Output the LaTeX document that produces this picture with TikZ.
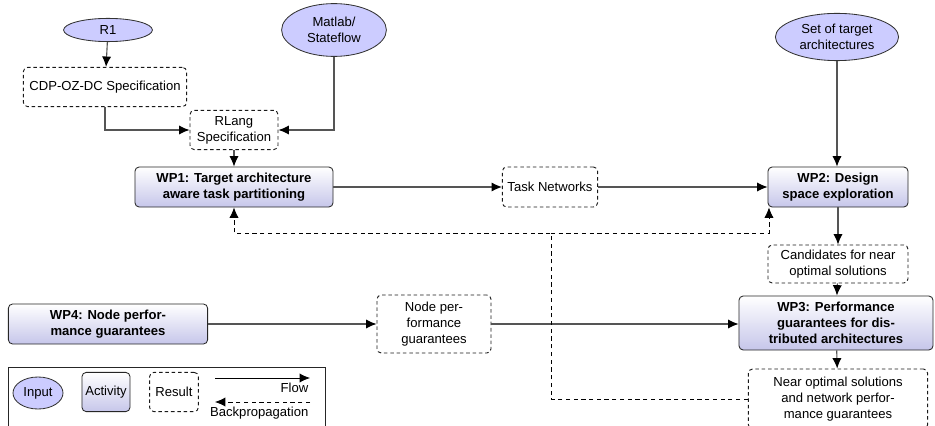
\documentclass[tikz,border=0pt]{standalone}
\usepackage{fontspec}
\setmainfont{Liberation Sans}
\usepackage{tikz}
\usetikzlibrary{arrows.meta,shapes.geometric}

\definecolor{inputfill}{RGB}{204,204,255}
\definecolor{actbottom}{RGB}{198,198,234}
\definecolor{linegray}{RGB}{85,85,85}

\begin{document}
\begin{tikzpicture}[x=0.025cm,y=-0.025cm,
		font=\fontsize{9.3}{11.4}\selectfont,
		input/.style={ellipse,draw=black!80,line width=0.6pt,fill=inputfill,inner sep=0pt,align=center},
		activity/.style={rectangle,rounded corners=3pt,draw=black!85,line width=0.6pt,top color=white,bottom color=actbottom,
			font=\fontsize{9.3}{11.4}\selectfont\bfseries,align=center,minimum height=1cm},
		result/.style={rectangle,rounded corners=3pt,draw=black!90,line width=0.65pt,dash pattern=on 2.5pt off 2pt,align=center},
		flow/.style={draw=linegray,line width=0.8pt,-{Latex[length=2.6mm,width=2.3mm,color=black]}},
		back/.style={flow,draw=black,line width=0.6pt,dash pattern=on 3pt off 2.5pt}]
		\useasboundingbox (0,0) rectangle (935,426);
		
		% TOP: inputs and specifications
		\node[input,minimum width=2.22cm,minimum height=0.58cm] (r1) at (108,30) {R1};
		\node[input,minimum width=2.62cm,minimum height=1.32cm] (matlab) at (334,30) {Matlab/\\Stateflow};
		\node[input,minimum width=3.08cm,minimum height=1.18cm] (targets) at (837,37) {Set of target\\architectures};
		\node[result,minimum width=4.08cm,minimum height=0.98cm] (cdp) at (105,87) {CDP-OZ-DC Specification};
		\node[result,minimum width=2.2cm,minimum height=0.98cm] (rlang) at (234,130) {RLang\\Specification};
		
		\draw[flow] (r1) -- (cdp);
		\draw[flow] (cdp.south) |- (rlang.west);
		\draw[flow] (matlab.south) |- (rlang.east);
		
		% MIDDLE: WP1 -> task networks -> WP2
		\node[activity,minimum width=4.95cm] (wp1) at (234,187) {WP1: Target architecture\\aware task partitioning};
		\node[result,minimum width=2.38cm,minimum height=1cm] (tasknet) at (550,187) {Task Networks};
		\node[activity,minimum width=3.5cm] (wp2) at (838,187) {WP2: Design\\space exploration};
		
		\draw[flow] (rlang) -- (wp1);
		\draw[flow] (wp1) -- (tasknet);
		\draw[flow] (tasknet) -- (wp2);
		\draw[flow] (targets.south) -- (targets.south |- wp2.north);
		
		% RIGHT: WP2 -> candidates -> WP3 -> solutions
		\node[result,minimum width=3.5cm,minimum height=0.95cm] (cand) at (838,264) {Candidates for near\\optimal solutions};
		\node[activity,minimum width=4.85cm,minimum height=1.35cm] (wp3) at (836,323) {WP3: Performance\\guarantees for dis-\\tributed architectures};
		\node[result,minimum width=4.48cm,minimum height=1.5cm] (near) at (838,399) {Near optimal solutions\\and network perfor-\\mance guarantees};
		
		\draw[flow] (wp2) -- (cand);
		\draw[flow] (cand) -- (wp3);
		\draw[flow] (wp3) -- (near);
		
		% BOTTOM: WP4 -> node guarantees -> WP3
		\node[activity,minimum width=4.98cm] (wp4) at (108,324) {WP4: Node perfor-\\mance guarantees};
		\node[result,minimum width=2.85cm,minimum height=1.45cm] (nodeperf) at (434,324) {Node per-\\formance\\guarantees};
		
		\draw[flow] (wp4) -- (nodeperf);
		\draw[flow] (nodeperf) -- (wp3.west |- nodeperf);
		
		% backpropagation
		\coordinate (split) at (551,233);
		\draw[back] (near.west) -| (split) -| (wp1.south);
		\draw[back] (split) -| ([xshift=1pt]wp2.south west);
		
		% legend
		\draw[black!85,line width=0.6pt] (8,367) rectangle (325,445);
		\node[input,minimum width=1.25cm,minimum height=0.8cm] (leginput) at (38,393) {Input};
		\node[activity,font=\fontsize{9.3}{11.4}\selectfont,minimum width=1.2cm,minimum height=0.98cm,inner sep=1pt] (legact) at (106,392) {Activity};
		\node[result,minimum width=1.22cm,minimum height=0.98cm,inner sep=1pt] (legres) at (174,392) {Result};
		\coordinate (flowa) at (215,378);
		\coordinate (flowb) at (310,378);
		\coordinate (backa) at (310,402);
		\coordinate (backb) at (215,402);
		\draw[flow,draw=black,line width=0.6pt] (flowa) -- (flowb);
		\node[anchor=north east,inner sep=1pt,yshift=-2.5pt] (flowlabel) at (flowb) {Flow};
		\draw[back] (backa) -- (backb);
		\node[anchor=north east,inner sep=1pt,yshift=-2.5pt] (backlabel) at (backa) {Backpropagation};
	\end{tikzpicture}
\end{document}
